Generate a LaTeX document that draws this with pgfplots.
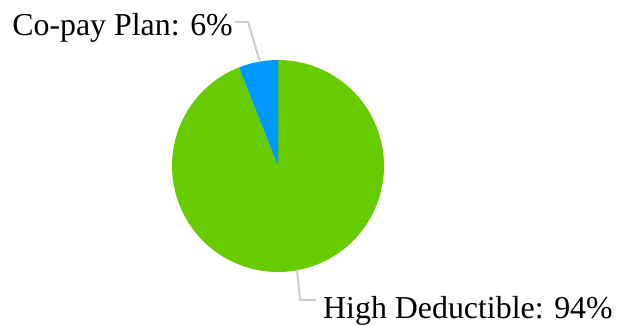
\documentclass[border=0pt]{standalone}
\usepackage{fontspec}
\setmainfont{Liberation Serif}
\usepackage{pgfplots}
\pgfplotsset{compat=1.18}
\definecolor{cgreen}{HTML}{66CC00}
\definecolor{cblue}{HTML}{0099FF}
\definecolor{cline}{HTML}{CCCCCC}
% shares in percent
\def\vCopay{6}
\def\vHigh{94}
\begin{document}
\begin{tikzpicture}
\begin{axis}[width=626bp,height=326bp,scale only axis,
  xmin=0,xmax=626,ymin=0,ymax=326,hide axis,clip=false]
\addplot[draw=none, fill=cgreen, domain={90+3.6*\vCopay}:{90+3.6*\vCopay+3.6*\vHigh}, samples=200]
  ({278+106*cos(x)},{160+106*sin(x)}) -- (axis cs:278,160) -- cycle;
\addplot[draw=none, fill=cblue, domain=90:{90+3.6*\vCopay}, samples=20]
  ({278+106*cos(x)},{160+106*sin(x)}) -- (axis cs:278,160) -- cycle;
\addplot[cline, line width=2bp] coordinates {(235,304) (248,304) (260,264)};
\addplot[cline, line width=2bp] coordinates {(297,56) (300,26) (316,26)};
\node[anchor=base east, font=\fontsize{32}{38}\selectfont, inner sep=0pt] at (axis cs:233,290) {Co-pay Plan: 6\%};
\node[anchor=base west, font=\fontsize{32}{38}\selectfont, inner sep=0pt] at (axis cs:323,8) {High Deductible: 94\%};
\end{axis}
\path (current axis.south west) rectangle (current axis.north east);
\end{tikzpicture}
\end{document}
